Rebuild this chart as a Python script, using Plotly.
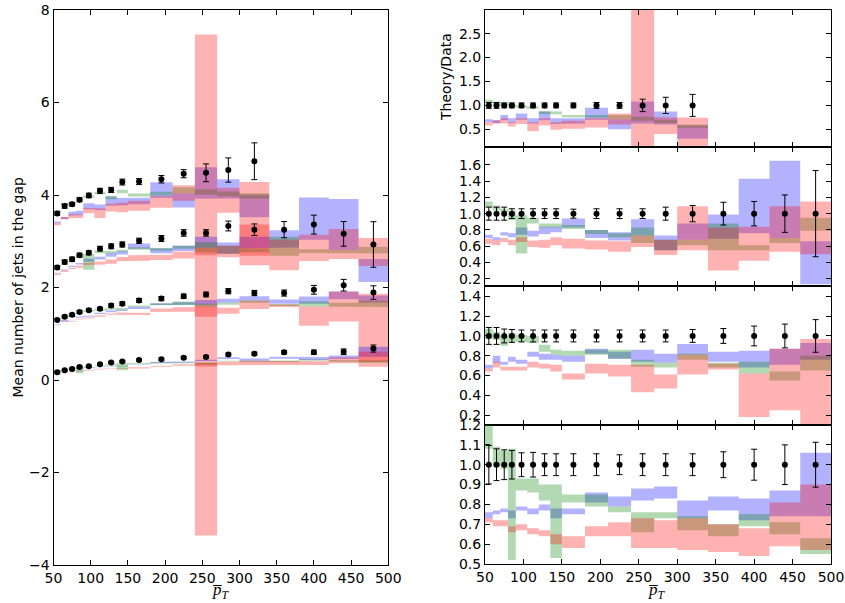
import plotly.graph_objects as go

# ---------------- data ----------------
edges = [50, 60, 70, 80, 90, 105, 120, 135, 150, 180, 210, 240, 270, 300, 340, 380, 420, 460, 500]
centers = [55, 65, 75, 85, 97.5, 112.5, 127.5, 142.5, 165, 195, 225, 255, 285, 320, 360, 400, 440, 480]
x_ticks = [50, 100, 150, 200, 250, 300, 350, 400, 450, 500]

offsets = [3, 2, 1, 0]

# measured mean number of jets (without the display offset)
data1 = [0.60, 0.76, 0.80, 0.90, 0.99, 1.09, 1.11, 1.28, 1.29, 1.34, 1.46, 1.48, 1.54, 1.73]
data2 = [0.43, 0.55, 0.61, 0.70, 0.75, 0.84, 0.89, 0.93, 1.01, 1.06, 1.18, 1.18, 1.33, 1.25, 1.25, 1.36, 1.16, 0.93]
data3 = [0.30, 0.37, 0.41, 0.47, 0.51, 0.54, 0.61, 0.65, 0.72, 0.76, 0.81, 0.85, 0.92, 0.88, 0.88, 0.95, 1.05, 0.89]
data4 = [0.17, 0.21, 0.24, 0.28, 0.30, 0.34, 0.38, 0.40, 0.43, 0.45, 0.48, 0.50, 0.55, 0.57, 0.60, 0.60, 0.61, 0.68]

# relative data uncertainties (as in the ratio panels)
err1 = [0.06, 0.06, 0.05, 0.05, 0.05, 0.05, 0.05, 0.05, 0.05, 0.06, 0.06, 0.13, 0.17, 0.23]
err2 = [0.08, 0.08, 0.08, 0.06, 0.06, 0.06, 0.06, 0.06, 0.055, 0.06, 0.06, 0.06, 0.08, 0.10, 0.14, 0.15, 0.23, 0.53]
err3 = [0.085, 0.085, 0.07, 0.065, 0.06, 0.06, 0.06, 0.06, 0.06, 0.06, 0.06, 0.06, 0.06, 0.065, 0.075, 0.10, 0.12, 0.165]
err4 = [0.097, 0.08, 0.075, 0.072, 0.06, 0.062, 0.055, 0.055, 0.055, 0.055, 0.05, 0.055, 0.055, 0.055, 0.065, 0.078, 0.10, 0.113]

# theory / data bands
blue1_hi = [0.71, 0.69, 0.80, 0.73, 0.83, 0.73, 0.87, 0.73, 0.73, 0.95, 0.71, 1.08, 0.87, 0.58]
blue1_lo = [0.65, 0.63, 0.69, 0.63, 0.70, 0.62, 0.69, 0.61, 0.62, 0.70, 0.50, 0.62, 0.60, 0.30]
green1_hi = [1.12, 1.08, 1.06, 1.03, 1.00, 0.98, 0.88, 0.87, 0.80, 0.80, 0.80, 0.76, 0.70, 0.60]
green1_lo = [1.05, 1.00, 0.99, 0.97, 0.95, 0.93, 0.82, 0.81, 0.75, 0.74, 0.71, 0.68, 0.63, 0.53]
red1_hi = [0.65, 0.69, 0.73, 0.65, 0.73, 0.65, 0.73, 0.65, 0.68, 0.73, 0.83, 3.02, 0.75, 0.74]
red1_lo = [0.58, 0.62, 0.62, 0.56, 0.61, 0.46, 0.58, 0.49, 0.51, 0.54, 0.60, -4.30, 0.40, -0.30]

blue2_hi = [0.74, 0.71, 0.77, 0.76, 0.83, 0.79, 0.84, 0.84, 0.94, 0.80, 0.77, 0.93, 0.73, 0.88, 0.99, 1.43, 1.65, 0.66]
blue2_lo = [0.70, 0.67, 0.73, 0.71, 0.74, 0.72, 0.75, 0.77, 0.83, 0.70, 0.67, 0.73, 0.55, 0.68, 0.69, 0.76, 0.70, 0.13]
green2_hi = [1.15, 1.10, 1.06, 1.04, 0.98, 0.95, 0.88, 0.88, 0.86, 0.80, 0.76, 0.83, 0.68, 0.68, 0.88, 0.61, 0.70, 0.95]
green2_lo = [1.08, 1.04, 1.02, 0.92, 0.51, 0.88, 0.83, 0.83, 0.81, 0.75, 0.71, 0.64, 0.55, 0.61, 0.55, 0.55, 0.64, 0.79]
red2_hi = [0.69, 0.67, 0.70, 0.68, 0.71, 0.67, 0.68, 0.71, 0.69, 0.67, 0.66, 0.73, 0.68, 1.09, 0.83, 0.84, 1.09, 1.15]
red2_lo = [0.63, 0.61, 0.65, 0.61, 0.65, 0.59, 0.58, 0.61, 0.57, 0.56, 0.53, 0.59, 0.49, 0.55, 0.30, 0.42, 0.53, 0.50]

blue3_hi = [0.71, 0.80, 0.74, 0.79, 0.76, 0.84, 0.82, 0.81, 0.80, 0.87, 0.84, 0.86, 0.82, 0.92, 0.84, 0.85, 0.87, 0.93]
blue3_lo = [0.67, 0.73, 0.71, 0.74, 0.72, 0.79, 0.76, 0.76, 0.74, 0.82, 0.77, 0.74, 0.73, 0.81, 0.74, 0.68, 0.71, 0.76]
green3_hi = [1.07, 1.04, 1.00, 1.03, 1.01, 1.00, 0.91, 0.86, 0.85, 0.86, 0.86, 0.76, 0.73, 0.82, 0.73, 0.74, 0.64, 0.80]
green3_lo = [0.97, 0.96, 0.90, 0.94, 0.94, 0.93, 0.84, 0.81, 0.80, 0.81, 0.77, 0.69, 0.68, 0.76, 0.68, 0.62, 0.55, 0.65]
red3_hi = [0.67, 0.74, 0.69, 0.69, 0.69, 0.74, 0.72, 0.71, 0.62, 0.72, 0.71, 0.71, 0.61, 0.81, 0.72, 0.62, 0.87, 0.97]
red3_lo = [0.64, 0.68, 0.65, 0.65, 0.65, 0.68, 0.67, 0.64, 0.56, 0.62, 0.59, 0.43, 0.47, 0.61, 0.66, 0.18, 0.25, -0.80]

blue4_hi = [0.76, 0.77, 0.78, 0.77, 0.79, 0.78, 0.80, 0.78, 0.78, 0.86, 0.84, 0.88, 0.89, 0.82, 0.84, 0.83, 0.87, 1.06]
blue4_lo = [0.73, 0.75, 0.76, 0.73, 0.77, 0.75, 0.77, 0.73, 0.75, 0.81, 0.79, 0.82, 0.83, 0.73, 0.77, 0.72, 0.74, 0.74]
green4_hi = [1.25, 1.09, 1.07, 1.08, 0.93, 0.93, 0.90, 0.90, 0.85, 0.85, 0.79, 0.76, 0.76, 0.74, 0.70, 0.75, 0.71, 0.63]
green4_lo = [1.08, 0.99, 0.98, 0.52, 0.87, 0.86, 0.82, 0.53, 0.81, 0.79, 0.76, 0.66, 0.73, 0.67, 0.64, 0.69, 0.65, 0.55]
red4_hi = [0.73, 0.72, 0.72, 0.69, 0.70, 0.68, 0.67, 0.65, 0.64, 0.69, 0.71, 0.73, 0.72, 0.73, 0.70, 0.68, 0.81, 0.90]
red4_lo = [0.71, 0.69, 0.69, 0.66, 0.67, 0.65, 0.64, 0.60, 0.58, 0.64, 0.64, 0.58, 0.58, 0.57, 0.56, 0.54, 0.59, 0.57]

ratio_ranges = [[0.13, 2.995], [0.11, 1.82], [0.1, 1.505], [0.5, 1.2]]
ratio_ticks = [[0.5, 1.0, 1.5, 2.0, 2.5],
               [0.2, 0.4, 0.6, 0.8, 1.0, 1.2, 1.4, 1.6],
               [0.2, 0.4, 0.6, 0.8, 1.0, 1.2, 1.4],
               [0.5, 0.6, 0.7, 0.8, 0.9, 1.0, 1.1, 1.2]]

series = [
    (data1, err1, [(blue1_lo, blue1_hi), (green1_lo, green1_hi), (red1_lo, red1_hi)]),
    (data2, err2, [(blue2_lo, blue2_hi), (green2_lo, green2_hi), (red2_lo, red2_hi)]),
    (data3, err3, [(blue3_lo, blue3_hi), (green3_lo, green3_hi), (red3_lo, red3_hi)]),
    (data4, err4, [(blue4_lo, blue4_hi), (green4_lo, green4_hi), (red4_lo, red4_hi)]),
]
band_colors = ['rgba(0,0,255,0.3)', 'rgba(0,128,0,0.3)', 'rgba(255,0,0,0.3)']

W, H = 845, 603
def fx(p):
    return p / W
def fy(p):
    return 1 - p / H

FONT = dict(family='DejaVu Sans', size=14, color='black')
MATH_FONT = dict(family='Liberation Serif', size=17, color='black')

fig = go.Figure()


def step_polygon(lo, hi, n):
    xs, ys = [], []
    for i in range(n):
        xs += [edges[i], edges[i + 1]]
        ys += [hi[i], hi[i]]
    for i in reversed(range(n)):
        xs += [edges[i + 1], edges[i]]
        ys += [lo[i], lo[i]]
    xs.append(xs[0]); ys.append(ys[0])
    return xs, ys


# bands
for s, (data, err, bands) in enumerate(series):
    n = len(data)
    off = offsets[s]
    rx, ry = 'x%d' % (s + 2), 'y%d' % (s + 2)
    for (lo, hi), col in zip(bands, band_colors):
        xs, ys = step_polygon(lo, hi, n)
        fig.add_trace(go.Scatter(x=xs, y=ys, xaxis=rx, yaxis=ry, mode='lines',
                                 line=dict(width=0), fill='toself', fillcolor=col,
                                 hoverinfo='skip', showlegend=False))
        alo = [lo[i] * data[i] + off for i in range(n)]
        ahi = [hi[i] * data[i] + off for i in range(n)]
        xs, ys = step_polygon(alo, ahi, n)
        fig.add_trace(go.Scatter(x=xs, y=ys, xaxis='x', yaxis='y', mode='lines',
                                 line=dict(width=0), fill='toself', fillcolor=col,
                                 hoverinfo='skip', showlegend=False))

# data points
for s, (data, err, bands) in enumerate(series):
    n = len(data)
    off = offsets[s]
    rx, ry = 'x%d' % (s + 2), 'y%d' % (s + 2)
    fig.add_trace(go.Scatter(
        x=centers[:n], y=[d + off for d in data], xaxis='x', yaxis='y', mode='markers',
        marker=dict(color='black', size=6),
        error_y=dict(type='data', array=[e * d for e, d in zip(err, data)],
                     color='black', thickness=1, width=3),
        showlegend=False))
    fig.add_trace(go.Scatter(
        x=centers[:n], y=[d / d for d in data], xaxis=rx, yaxis=ry, mode='markers',
        marker=dict(color='black', size=6),
        error_y=dict(type='data', array=err, color='black', thickness=1, width=3),
        showlegend=False))

axis_common = dict(showline=True, linecolor='black', linewidth=1, mirror='ticks',
                   ticks='inside', ticklen=5, tickwidth=1, tickcolor='black',
                   showgrid=False, zeroline=False, tickfont=FONT, automargin=False)

layout = dict(
    width=W, height=H, margin=dict(l=0, r=0, t=0, b=0, autoexpand=False),
    paper_bgcolor='white', plot_bgcolor='white', showlegend=False,
    font=FONT,
)

LX = [fx(53.5), fx(388.3)]
RX = [fx(485), fx(831)]
layout['xaxis'] = dict(domain=LX, range=[50, 500], tickvals=x_ticks, anchor='y', **axis_common)
layout['yaxis'] = dict(domain=[fy(565), fy(10)], range=[-4, 8], tickvals=[-4, -2, 0, 2, 4, 6, 8],
                       anchor='x', **axis_common)

panel_px = [(10, 147), (147, 286), (286, 425), (425, 564)]
for k in range(4):
    ax = k + 2
    top, bot = panel_px[k]
    layout['xaxis%d' % ax] = dict(domain=RX, range=[50, 500], tickvals=x_ticks,
                                  showticklabels=(k == 3), anchor='y%d' % ax, **axis_common)
    layout['yaxis%d' % ax] = dict(domain=[fy(bot), fy(top)], range=ratio_ranges[k],
                                  tickvals=ratio_ticks[k], tickformat='.1f',
                                  anchor='x%d' % ax, **axis_common)

fig.update_layout(**layout)

ann = [
    dict(text='Mean number of jets in the gap', x=fx(17), y=fy(287.5), textangle=-90, font=FONT),
    dict(text='Theory/Data', x=fx(446), y=fy(77), textangle=-90, font=FONT),
    dict(text='<i>p\u0305</i><sub><i>T</i></sub>', x=fx(221), y=fy(591), font=MATH_FONT),
    dict(text='<i>p\u0305</i><sub><i>T</i></sub>', x=fx(657), y=fy(591), font=MATH_FONT),
]
for a in ann:
    fig.add_annotation(xref='paper', yref='paper', showarrow=False,
                       xanchor='center', yanchor='middle', **a)

fig.write_html('out.html', config={'displayModeBar': False},
               post_script="document.body.style.margin='0px';document.body.style.overflow='hidden';")
